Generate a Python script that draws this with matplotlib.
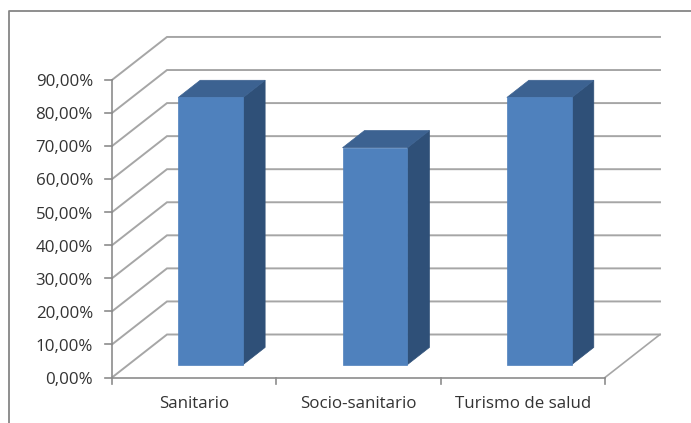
import matplotlib
matplotlib.use("Agg")
import matplotlib.pyplot as plt
from matplotlib.lines import Line2D
from matplotlib.patches import Polygon

categories = ["Sanitario", "Socio-sanitario", "Turismo de salud"]
values = [80.8, 65.6, 80.8]
y_ticks = [0, 10, 20, 30, 40, 50, 60, 70, 80, 90]
y_labels = ["0,00%", "10,00%", "20,00%", "30,00%", "40,00%",
            "50,00%", "60,00%", "70,00%", "80,00%", "90,00%"]

W, H = 691, 423
PX_X = 164.33   # pixels per category
PX_Y = 3.306    # pixels per percent
X0, Y0 = 112, 377.5
DEPTH_X = 55 / PX_X
DEPTH_Y = 43 / PX_Y
BAR_W = 0.395
BAR_D0, BAR_D1 = 0.30, 0.70

GRID = "#a6a6a6"
AXIS = "#8c8c8c"
TXT = "#333333"

plt.rcParams["font.family"] = ["Open Sans", "DejaVu Sans"]
fig = plt.figure(figsize=(W / 100, H / 100), dpi=100)
ax = fig.add_axes([0, 0, 1, 1])
ax.set_xlim(-X0 / PX_X, (W - X0) / PX_X)
ax.set_ylim(-(H - Y0) / PX_Y, Y0 / PX_Y)
ax.axis("off")


def proj(x, y, d=0.0):
    return x + d * DEPTH_X, y + d * DEPTH_Y


n = len(categories)

# chart frame
fig.add_artist(Line2D([9 / W, 9 / W, 1], [0, 1 - 11 / H, 1 - 11 / H],
                      color="#868686", lw=1.3))

# walls and floor
for t in y_ticks:
    xs, ys = zip(proj(0, t), proj(0, t, 1), proj(n, t, 1))
    ax.plot(xs, ys, color=GRID, lw=1.4, solid_joinstyle="miter", zorder=1)
xs, ys = zip(proj(n, 0), proj(n, 0, 1))
ax.plot(xs, ys, color=GRID, lw=1.2, zorder=1)

# axes and ticks
ax.plot([0, 0], [0, y_ticks[-1]], color=AXIS, lw=1.2, zorder=2)
ax.plot([0, n], [0, 0], color=AXIS, lw=1.2, zorder=2)
for t, lab in zip(y_ticks, y_labels):
    ax.plot([-7 / PX_X, 0], [t, t], color=AXIS, lw=1.2, zorder=2)
    ax.text(-19 / PX_X, t - 0.7, lab, ha="right", va="center",
            fontsize=12.2, color=TXT)
for i in range(n + 1):
    ax.plot([i, i], [0, -6 / PX_Y], color=AXIS, lw=1.2, zorder=2)

# bars
for i, (name, v) in enumerate(zip(categories, values)):
    l, r = i + 0.5 - BAR_W / 2, i + 0.5 + BAR_W / 2
    side = [proj(r, 0, BAR_D0), proj(r, 0, BAR_D1),
            proj(r, v, BAR_D1), proj(r, v, BAR_D0)]
    top = [proj(l, v, BAR_D0), proj(r, v, BAR_D0),
           proj(r, v, BAR_D1), proj(l, v, BAR_D1)]
    front = [proj(l, 0, BAR_D0), proj(r, 0, BAR_D0),
             proj(r, v, BAR_D0), proj(l, v, BAR_D0)]
    ax.add_patch(Polygon(side, closed=True, fc="#2f5078", ec="#2f5078", lw=0.5, zorder=3))
    ax.add_patch(Polygon(top, closed=True, fc="#3c6291", ec="#3c6291", lw=0.5, zorder=3))
    ax.add_patch(Polygon(front, closed=True, fc="#4f81bd", ec="#4f81bd", lw=0.5, zorder=4))
    ax.text(i + 0.5, -26.5 / PX_Y, name, ha="center", va="center",
            fontsize=12.2, color=TXT)

fig.savefig("out.png", dpi=100)
